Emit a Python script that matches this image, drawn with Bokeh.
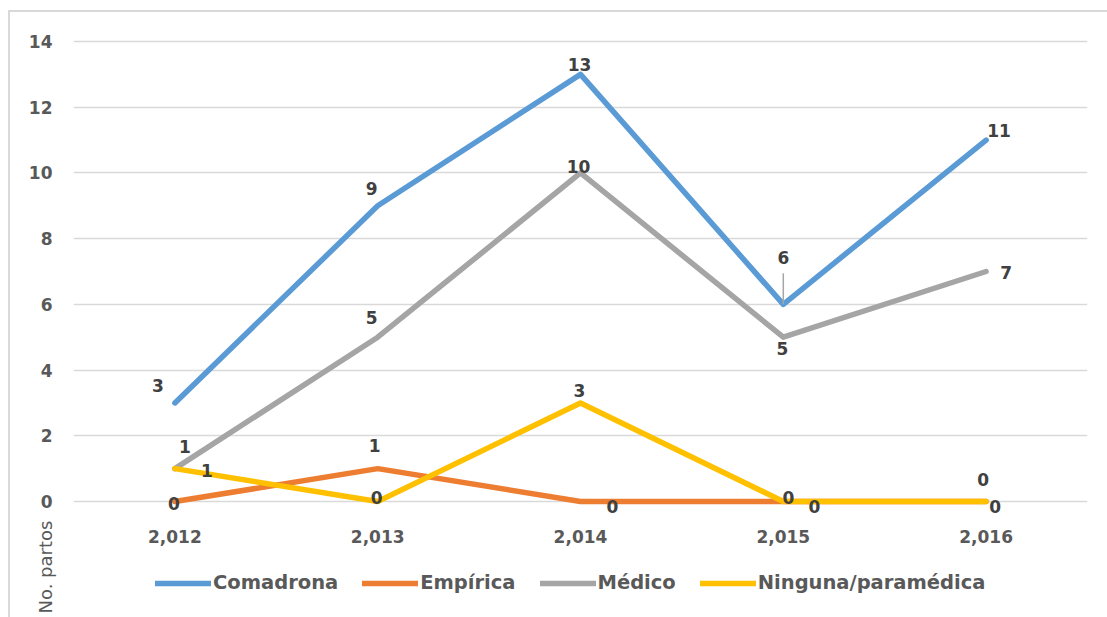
import math
from bokeh.plotting import figure
from bokeh.models import (FactorRange, Range1d, Legend, LegendItem, Title,
                          ColumnDataSource, FixedTicker, InlineStyleSheet)
from bokeh.core.properties import value
from bokeh.embed import file_html
from bokeh.resources import INLINE

# ---------------- data ----------------
years = ["2,012", "2,013", "2,014", "2,015", "2,016"]
comadrona = [3, 9, 13, 6, 11]
empirica = [0, 1, 0, 0, 0]
medico = [1, 5, 10, 5, 7]
ninguna = [1, 0, 3, 0, 0]
series_names = ["Comadrona", "Empírica", "Médico", "Ninguna/paramédica"]
y_ticks = [0, 2, 4, 6, 8, 10, 12, 14]
y_title = "No. partos"

# ---------------- styles ----------------
colors = ["#5B9BD5", "#ED7D31", "#A5A5A5", "#FFC000"]
# label pixel offsets per series (styling only)
lab_dx = [[-17, -6, -1, 0, 13], [-1, -3, 32, 31, 9], [10, -6, -2, -1, 20], [32, -1, -1, 5, -3]]
lab_dy = [[-17, -17, -10, -47, -10], [2, -23, 5, 5, 5], [-22, -20, -6, 11, 1], [2, -4, -12, -4, -22]]
FONT = "DejaVu Sans"
AXIS_COLOR = "#595959"
LABEL_COLOR = "#404040"

# frame: x 73..1087, y 31..617 ; value 0 at y=501, 32.857 px per unit
p = figure(width=1107, height=617, x_range=FactorRange(*years, range_padding=0),
           y_range=Range1d(-3.5304, 14.3043), x_axis_location="above",
           output_backend="svg", toolbar_location=None,
           min_border_left=73, min_border_right=20, min_border_top=31, min_border_bottom=0)
p.outline_line_color = None
p.background_fill_color = "white"
p.border_fill_color = "white"

p.xgrid.grid_line_color = None
p.ygrid.grid_line_color = "#D9D9D9"
p.ygrid.grid_line_width = 1.5
p.yaxis.ticker = FixedTicker(ticks=y_ticks)

for ax in (p.xaxis[0], p.yaxis[0]):
    ax.axis_line_color = None
    ax.major_tick_line_color = None
    ax.minor_tick_line_color = None
    ax.major_tick_in = 0
    ax.major_tick_out = 0
    ax.minor_tick_out = 0
    ax.major_label_text_font = FONT
    ax.major_label_text_font_style = "bold"
    ax.major_label_text_color = AXIS_COLOR
    ax.major_label_text_font_size = "17px"
p.yaxis.major_label_standoff = 21
p.xaxis.fixed_location = 0
p.xaxis.major_label_standoff = -41

all_series = [comadrona, empirica, medico, ninguna]
items = []
for k, (name, vals) in enumerate(zip(series_names, all_series)):
    r = p.line(years, vals, line_color=colors[k], line_width=5.5, line_cap="round", line_join="round")
    items.append(LegendItem(label=name, renderers=[r]))

# leader line for the Comadrona 2015 label
p.ray(x=[years[3]], y=[comadrona[3]], length=31, length_units="screen",
      angle=math.pi / 2, line_color="#A5A5A5", line_width=1.5)

for k, vals in enumerate(all_series):
    src = ColumnDataSource(dict(x=years, y=vals, t=[str(v) for v in vals],
                                dx=lab_dx[k], dy=lab_dy[k]))
    p.text(x="x", y="y", text="t", x_offset="dx", y_offset="dy", source=src,
           text_font=value(FONT), text_font_style="bold", text_font_size="17px",
           text_color=LABEL_COLOR, text_align="center", text_baseline="middle")

legend = Legend(items=items, orientation="horizontal", location=(82, 23),
                glyph_width=56, glyph_height=20, label_height=20, label_standoff=2,
                spacing=24, padding=0, margin=0, border_line_color=None,
                background_fill_alpha=0,
                label_text_font=FONT, label_text_font_style="bold",
                label_text_font_size="19.5px", label_text_color=AXIS_COLOR)
p.add_layout(legend, "center")

p.add_layout(Title(text=y_title, align="left", offset=4, standoff=-60,
                   text_font=FONT, text_font_size="18px", text_font_style="normal",
                   text_color=AXIS_COLOR), "left")

p.stylesheets = [InlineStyleSheet(css=":host::after{content:'';position:absolute;left:8px;top:10px;"
                                      "right:0;bottom:0;border-left:2px solid #D9D9D9;"
                                      "border-top:2px solid #D9D9D9;pointer-events:none;z-index:5;}")]

open("out.html", "w").write(file_html(p, INLINE))
